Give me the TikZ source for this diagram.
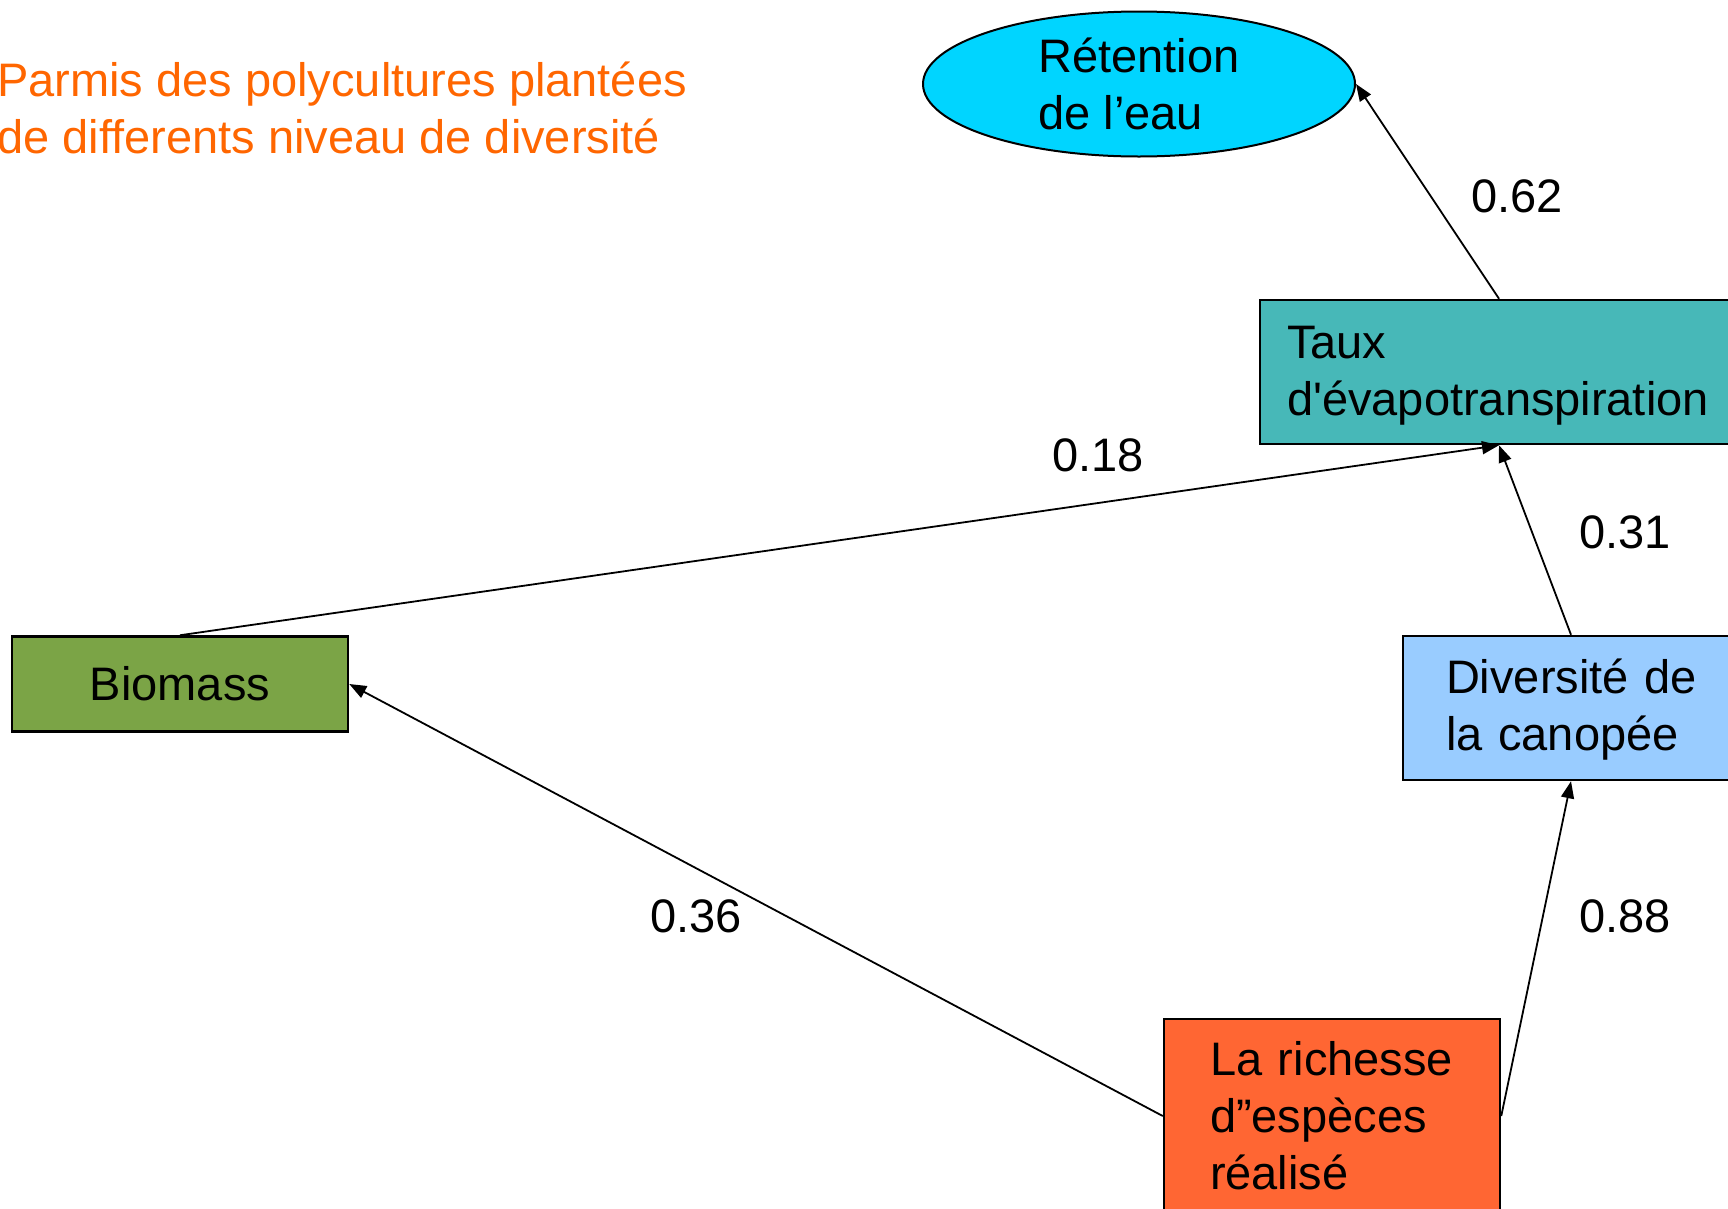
\documentclass[tikz,border=0pt]{standalone}
\usepackage{fontspec}
\setmainfont{Liberation Sans}
\usetikzlibrary{arrows.meta,shapes.geometric}
\definecolor{retcyan}{HTML}{00D5FF}
\definecolor{tauxteal}{HTML}{47B8B8}
\definecolor{biogreen}{HTML}{7BA446}
\definecolor{divblue}{HTML}{99CCFF}
\definecolor{richorange}{HTML}{FF6633}
\definecolor{titleorange}{HTML}{FF6600}
\tikzset{
  box/.style={draw, rectangle, line width=2.5pt, inner ysep=0pt, align=left},
  path/.style={line width=1.8pt, -{Triangle[length=17pt,width=13pt]}},
}
\begin{document}
\begin{tikzpicture}[font=\fontsize{47}{57}\selectfont,x=1pt,y=-1pt]
	\useasboundingbox (0,0) rectangle (1728,1208);
	%title----------------------------
	 \node[titleorange, anchor=north west, inner sep=0pt, align=left] (title) at (-3,62) {Parmis des polycultures plantées\\de differents niveau de diversité}; %title label
	%variables------------------------
		\node[draw, ellipse, fill=retcyan, line width=2pt, minimum width=432pt, minimum height=145pt, inner sep=0pt, align=left] (ret) at (1139,84) {Rétention\\de l’eau}; %water retention
		\node[box, fill=tauxteal, minimum height=144pt, inner xsep=27pt, text width=424pt, text height=39pt] (taux) at (1499,372) {Taux\\d\textquotesingle évapotranspiration}; %evapotranspiration
		\node[box, fill=biogreen, minimum width=336pt, minimum height=95pt, align=center] (bio) at (180,684) {Biomass}; %biomass
		\node[box, fill=divblue, minimum height=144pt, inner xsep=43pt, text width=250pt, text height=38pt] (div) at (1571,708) {Diversité~de\\la canopée}; %canopy diversity
		\node[box, fill=richorange, minimum height=194pt, inner xsep=46pt, text width=244pt] (rich) at (1332,1116) {La richesse\\d”espèces\\réalisé}; %species richness
	%paths----------------------------
		\draw[path] (taux.north) -- (ret.east); %0.62
		\draw[path] (bio.north) -- (taux.south); %0.18
		\draw[path] (div.north) -- (taux.south); %0.31
		\draw[path] (rich.west) -- (bio.east); %0.36
		\draw[path] (rich.east) -- (div.south); %0.88
	%coefficients---------------------
		\node (c62) at (1517,196) {0.62};
		\node (c18) at (1098,455) {0.18};
		\node (c31) at (1625,532) {0.31};
		\node (c36) at (696,916) {0.36};
		\node (c88) at (1625,916) {0.88};
\end{tikzpicture}
\end{document}
